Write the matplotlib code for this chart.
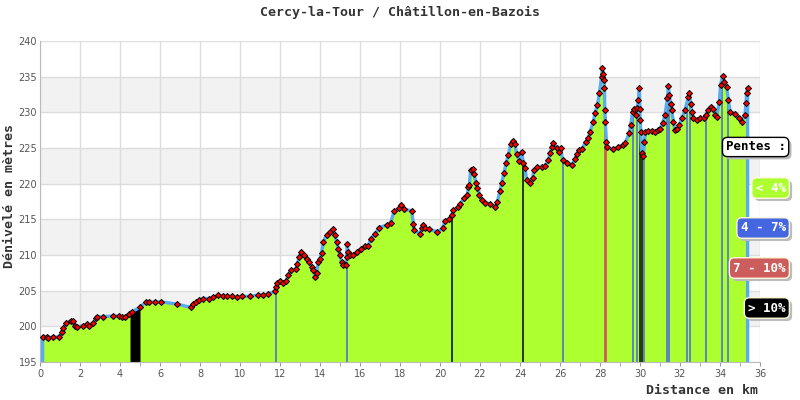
import numpy as np
import matplotlib
matplotlib.use('Agg')
import matplotlib.pyplot as plt
import matplotlib.patheffects as pe

# profile (km, m)
dist = np.array([
    0.13, 0.33, 0.42, 0.67, 0.97, 1.08, 1.17, 1.28, 1.53, 1.63, 1.75, 1.83, 2.13, 2.33, 2.47,
    2.67, 2.8, 2.83, 3.17, 3.63, 3.97, 4.08, 4.25, 4.47, 4.58, 5.0, 5.3, 5.47, 5.75, 6.03,
    6.87, 7.55, 7.67, 7.8, 7.97, 8.17, 8.47, 8.67, 8.92, 9.13, 9.33, 9.58, 9.83, 10.08, 10.5,
    10.92, 11.17, 11.38, 11.75, 11.8, 11.87, 12.0, 12.17, 12.3, 12.42, 12.53, 12.8, 12.87, 12.97,
    13.07, 13.2, 13.33, 13.47, 13.58, 13.67, 13.75, 13.83, 13.92, 14.0, 14.08, 14.17, 14.33, 14.5,
    14.63, 14.75, 14.83, 14.92, 15.0, 15.08, 15.17, 15.3, 15.33, 15.36, 15.4, 15.5, 15.67, 15.83,
    16.03, 16.25, 16.42, 16.53, 16.75, 16.97, 17.33, 17.53, 17.7, 17.97, 18.03, 18.2, 18.58, 18.67,
    18.7, 19.0, 19.08, 19.17, 19.25, 19.47, 19.87, 20.13, 20.25, 20.47, 20.58, 20.67, 20.92, 21.0,
    21.2, 21.37, 21.42, 21.47, 21.53, 21.63, 21.7, 21.8, 21.87, 21.97, 22.08, 22.25, 22.5, 22.75,
    22.87, 23.0, 23.08, 23.2, 23.3, 23.42, 23.53, 23.63, 23.75, 23.83, 23.97, 24.08, 24.17, 24.25,
    24.33, 24.5, 24.63, 24.7, 24.83, 25.08, 25.25, 25.42, 25.5, 25.58, 25.67, 25.83, 25.97, 26.03,
    26.13, 26.33, 26.58, 26.75, 26.83, 26.97, 27.08, 27.3, 27.42, 27.5, 27.67, 27.75, 27.87, 27.97,
    28.08, 28.12, 28.17, 28.2, 28.22, 28.24, 28.26, 28.32, 28.34, 28.63, 28.92, 29.13, 29.25, 29.47,
    29.53, 29.63, 29.7, 29.78, 29.85, 29.92, 29.97, 29.99, 30.01, 30.04, 30.08, 30.17, 30.22, 30.27,
    30.4, 30.58, 30.75, 30.92, 31.0, 31.13, 31.25, 31.37, 31.42, 31.47, 31.53, 31.58, 31.67, 31.75,
    31.87, 31.97, 32.08, 32.25, 32.42, 32.47, 32.53, 32.58, 32.67, 32.83, 33.0, 33.2, 33.3, 33.42,
    33.53, 33.67, 33.75, 33.83, 33.97, 34.03, 34.13, 34.2, 34.33, 34.42, 34.5, 34.75, 34.97, 35.08,
    35.25, 35.3, 35.33, 35.38])
elev = np.array([
    198.5, 198.5, 198.4, 198.5, 198.5, 199.25, 199.7, 200.4, 200.8, 200.7, 200.05, 199.9, 200.05, 200.3, 200.1,
    200.5, 201.1, 201.35, 201.35, 201.45, 201.45, 201.3, 201.35, 201.7, 202.05, 202.65, 203.45, 203.4, 203.4, 203.45,
    203.1, 202.65, 203.1, 203.45, 203.7, 203.9, 203.9, 204.05, 204.4, 204.2, 204.2, 204.2, 204.05, 204.2, 204.2,
    204.4, 204.4, 204.5, 204.9, 205.55, 206.1, 206.4, 206.1, 206.4, 207.2, 207.9, 208.0, 208.8, 209.75,
    210.4, 210.0, 209.5, 209.05, 208.35, 207.9, 206.9, 207.5, 209.05, 209.5, 210.3, 211.85, 212.8, 213.25,
    213.6, 212.8, 211.85, 210.9, 210.0, 209.05, 208.6, 208.6, 209.75, 211.6, 210.4, 210.0, 210.0, 210.4,
    210.8, 211.25, 211.25, 212.3, 213.0, 213.85, 214.2, 214.5, 216.1, 216.55, 217.05, 216.4, 216.2, 214.35,
    213.5, 213.0, 213.75, 214.2, 213.75, 213.6, 213.25, 213.75, 214.8, 215.0, 215.6, 216.3, 216.7, 217.15,
    217.95, 218.4, 219.5, 219.8, 221.9, 222.0, 221.35, 220.1, 219.35, 218.4, 217.7, 217.3, 217.2, 216.7,
    217.5, 219.0, 220.1, 221.45, 222.85, 224.0, 225.55, 226.0, 225.55, 224.15, 223.2, 224.5, 222.85, 222.15,
    220.5, 220.05, 220.8, 221.9, 222.3, 222.3, 222.5, 223.3, 224.25, 225.1, 225.75, 225.0, 224.5, 225.0,
    223.3, 222.95, 222.6, 223.4, 224.15, 224.7, 224.8, 225.9, 226.35, 227.3, 228.7, 229.85, 231.05, 232.65,
    235.0, 236.15, 235.4, 234.6, 233.4, 230.3, 228.7, 225.9, 225.1, 224.8, 225.1, 225.45, 225.7, 227.05,
    228.2, 230.1, 230.4, 229.6, 230.6, 231.7, 233.4, 230.5, 228.9, 227.3, 224.25, 223.85, 225.9, 227.3,
    227.4, 227.4, 227.3, 227.5, 227.7, 228.55, 229.6, 231.95, 233.7, 232.4, 231.2, 230.3, 228.7, 227.5,
    227.6, 228.2, 229.15, 230.3, 232.2, 232.65, 231.2, 230.1, 229.15, 228.9, 229.15, 229.15, 229.6, 230.3,
    230.8, 230.4, 229.6, 229.4, 231.5, 233.85, 235.1, 234.3, 233.6, 231.7, 230.1, 229.8, 229.15, 228.7,
    229.6, 231.25, 232.65, 233.4])

# slope markers (km position, category)
slope_km = [11.8, 15.33, 20.58, 24.13, 26.13, 28.25, 29.67, 29.87, 30.0, 30.08, 30.2,
            31.37, 31.47, 32.37, 32.5, 33.3, 34.08, 34.42]
slope_cat = ['4-7', '4-7', '>10', '>10', '4-7', '7-10', '4-7', '4-7', '>10', '>10', '4-7',
             '4-7', '4-7', '4-7', '4-7', '4-7', '4-7', '4-7']
steep_block = [4.5, 5.0]

legend_labels = ['< 4%', '4 - 7%', '7 - 10%', '> 10%']
legend_cats = ['<4', '4-7', '7-10', '>10']
cat_colors = {'<4': '#adff2f', '4-7': '#4466e0', '7-10': '#cd5c5c', '>10': '#000000'}

ymin, ymax = 195, 240
mono = 'DejaVu Sans Mono'

fig = plt.figure(figsize=(8, 4), dpi=100)
ax = fig.add_axes([0.05, 0.095, 0.90, 0.8025])
ax.set_xlim(0, 36)
ax.set_ylim(ymin, ymax)

# alternating bands + grid
for y0 in range(200, 240, 10):
    ax.axhspan(y0, y0 + 5, color='#f2f2f2', zorder=0, lw=0)
for y in range(195, 241, 5):
    ax.axhline(y, color='#dddddd', lw=1, zorder=0.5)
for x in range(0, 37, 2):
    ax.axvline(x, color='#dddddd', lw=1, zorder=0.5)

ax.fill_between(dist, ymin, elev, color='#adff2f', lw=0, zorder=1)

# steep block
m = (dist > steep_block[0]) & (dist < steep_block[1])
bx = np.concatenate([[steep_block[0]], dist[m], [steep_block[1]]])
ax.fill_between(bx, ymin, np.interp(bx, dist, elev), color='black', lw=0, zorder=2)

sk = np.array(slope_km)
tops = np.interp(sk, dist, elev)
cols = [cat_colors[c] for c in slope_cat]
widths = [2.0 if c == '7-10' else 1.1 for c in slope_cat]
ax.vlines(sk, ymin, tops, colors=cols, linewidths=widths, zorder=2)

lx = np.concatenate([[dist[0]], dist, [dist[-1]]])
ly = np.concatenate([[ymin], elev, [ymin]])
ax.plot(lx, ly, color='#5aaaf0', lw=2.4, zorder=3)
ax.plot(dist, elev, ls='none', marker='D', ms=3.1, mfc='red', mec='black', mew=0.7, zorder=4)

for s in ['top', 'right']:
    ax.spines[s].set_visible(False)
for s in ['left', 'bottom']:
    ax.spines[s].set_color('#bbbbbb')

ax.set_xticks(range(0, 37, 2))
ax.set_xticks(range(0, 37), minor=True)
ax.set_yticks(range(195, 241, 5))
ax.tick_params(axis='x', which='both', length=3, color='#999999', labelsize=7,
               labelcolor='#555555', pad=2)
ax.tick_params(axis='y', length=0, labelsize=7, labelcolor='#555555', pad=2)

fig.text(0.5, 0.97, 'Cercy-la-Tour / Châtillon-en-Bazois', ha='center', va='center',
         family=mono, weight='bold', fontsize=9.5, color='#333333')
fig.text(0.0125, 0.51, 'Dénivelé en mètres', rotation=90, ha='center', va='center',
         family=mono, weight='bold', fontsize=9.5, color='#333333')
fig.text(0.948, 0.025, 'Distance en km', ha='right', va='center',
         family=mono, weight='bold', fontsize=9.5, color='#333333')

shadow = [pe.withSimplePatchShadow(offset=(2, -2), shadow_rgbFace='#bbbbbb', alpha=1)]
t = fig.text(0.982, 1 - 147 / 400, 'Pentes :', ha='right', va='center', family=mono,
             weight='bold', fontsize=9, color='black',
             bbox=dict(boxstyle='round,pad=0.25,rounding_size=0.4', fc='white', ec='black', lw=1))
t.get_bbox_patch().set_path_effects(shadow)
for i, (lab, cat) in enumerate(zip(legend_labels, legend_cats)):
    t = fig.text(0.982, 1 - (188 + 40 * i) / 400, lab, ha='right', va='center', family=mono,
                 weight='bold', fontsize=9, color='white',
                 bbox=dict(boxstyle='round,pad=0.3,rounding_size=0.4', fc=cat_colors[cat],
                           ec='#fff8dc', lw=1))
    t.get_bbox_patch().set_path_effects(shadow)

fig.savefig('out.png', dpi=100)
